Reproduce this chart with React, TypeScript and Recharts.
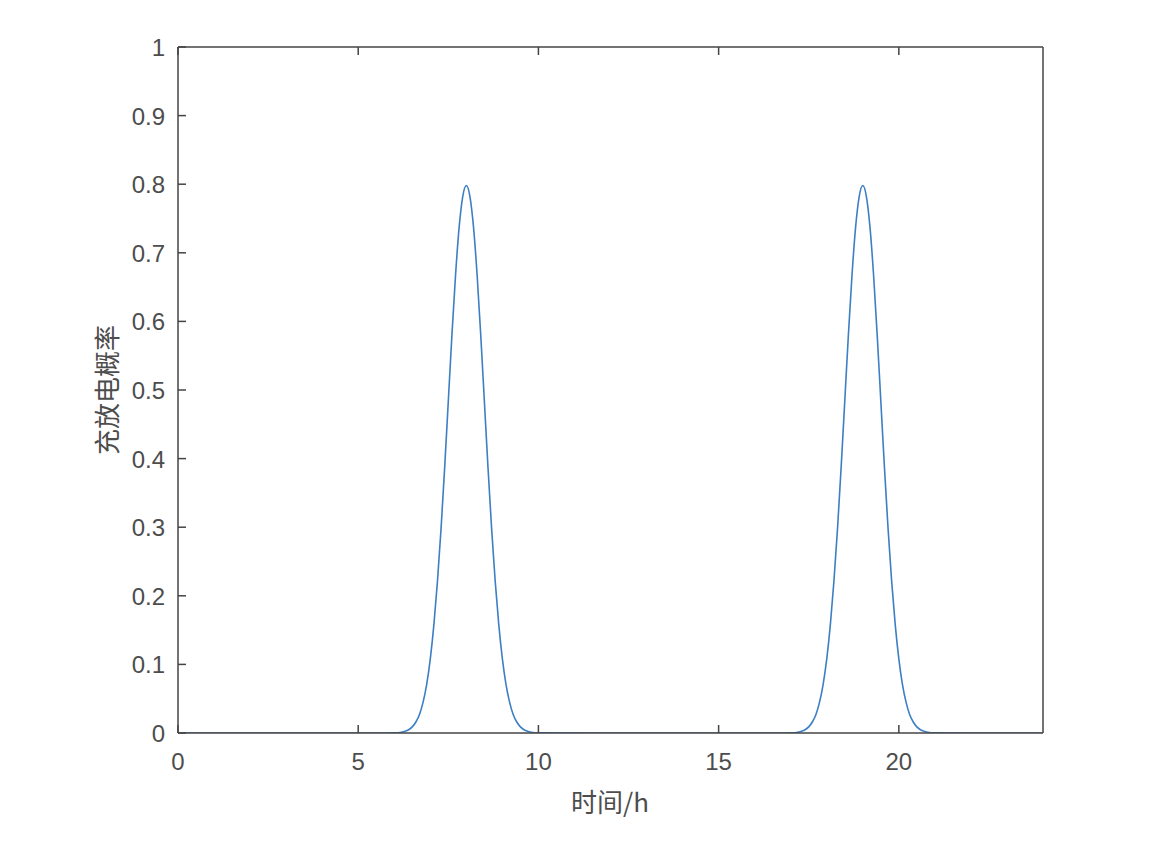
import { LineChart, Line, XAxis, YAxis } from 'recharts';

// hours sampled along the curve (dense around the two peaks)
const hours = [
  0, 2, 4, 5.5, 6, 6.2, 6.3, 6.4, 6.5, 6.6, 6.7, 6.8, 6.9, 7, 7.1, 7.2, 7.3, 7.4, 7.5, 7.6, 7.7, 7.8, 7.9, 8,
  8.1, 8.2, 8.3, 8.4, 8.5, 8.6, 8.7, 8.8, 8.9, 9, 9.1, 9.2, 9.3, 9.4, 9.5, 9.6, 9.7, 9.8, 10, 12, 14, 16, 16.5, 17,
  17.2, 17.3, 17.4, 17.5, 17.6, 17.7, 17.8, 17.9, 18, 18.1, 18.2, 18.3, 18.4, 18.5, 18.6, 18.7, 18.8, 18.9, 19,
  19.1, 19.2, 19.3, 19.4, 19.5, 19.6, 19.7, 19.8, 19.9, 20, 20.1, 20.2, 20.3, 20.4, 20.5, 20.6, 20.7, 20.8, 21, 22, 24,
];

const probability = [
  0, 0, 0, 0, 0.0003, 0.0012, 0.0025, 0.0048, 0.0089, 0.016, 0.027, 0.045, 0.071, 0.108, 0.158, 0.222, 0.299,
  0.388, 0.484, 0.58, 0.667, 0.737, 0.782, 0.798,
  0.782, 0.737, 0.667, 0.58, 0.484, 0.388, 0.299, 0.222, 0.158, 0.108, 0.071, 0.045, 0.027, 0.016, 0.0089, 0.0048,
  0.0025, 0.0012, 0.0003, 0, 0, 0, 0, 0.0003,
  0.0012, 0.0025, 0.0048, 0.0089, 0.016, 0.027, 0.045, 0.071, 0.108, 0.158, 0.222, 0.299, 0.388, 0.484, 0.58,
  0.667, 0.737, 0.782, 0.798,
  0.782, 0.737, 0.667, 0.58, 0.484, 0.388, 0.299, 0.222, 0.158, 0.108, 0.071, 0.045, 0.027, 0.016, 0.0089,
  0.0048, 0.0025, 0.0012, 0.0003, 0, 0,
];

const xTicks = [0, 5, 10, 15, 20];
const yTicks = [0, 0.1, 0.2, 0.3, 0.4, 0.5, 0.6, 0.7, 0.8, 0.9, 1];

const data = hours.map((h, i) => ({ h, p: probability[i] }));

const axisColor = '#444';
const textColor = '#4d4d4d';
const font = '"Liberation Sans", Arial, sans-serif';
const cjkFont = '"Noto Sans CJK SC", sans-serif';

// MATLAB-like ticks: short inward marks, labels outside the box
const BottomTick = (props: any) => (
  <g>
    <line x1={props.x} x2={props.x} y1={props.y} y2={props.y - 8} stroke={axisColor} strokeWidth={1.5} />
    <text x={props.x} y={props.y + 37} textAnchor="middle" fill={textColor} fontSize={24} fontFamily={font}>
      {props.payload.value}
    </text>
  </g>
);

const LeftTick = (props: any) => (
  <g>
    <line x1={props.x} x2={props.x + 8} y1={props.y} y2={props.y} stroke={axisColor} strokeWidth={1.5} />
    <text x={props.x - 13} y={props.y + 9} textAnchor="end" fill={textColor} fontSize={24} fontFamily={font}>
      {props.payload.value}
    </text>
  </g>
);

const TopTick = (props: any) => (
  <line x1={props.x} x2={props.x} y1={props.y} y2={props.y + 8} stroke={axisColor} strokeWidth={1.5} />
);

const RightTick = (props: any) => (
  <line x1={props.x} x2={props.x - 8} y1={props.y} y2={props.y} stroke={axisColor} strokeWidth={1.5} />
);

export default function App() {
  return (
    <div style={{ position: 'fixed', left: 0, top: 0, width: 1174, height: 852, background: '#fff' }}>
      <LineChart width={1174} height={852} data={data} margin={{ top: 47, right: 131, left: 178, bottom: 119 }}>
        <XAxis
          xAxisId="bottom"
          dataKey="h"
          type="number"
          domain={[0, 24]}
          ticks={xTicks}
          orientation="bottom"
          mirror
          tickSize={0}
          tickMargin={0}
          tickLine={false}
          stroke={axisColor}
          strokeWidth={1.5}
          tick={<BottomTick />}
          allowDataOverflow
        />
        <XAxis
          xAxisId="top"
          dataKey="h"
          type="number"
          domain={[0, 24]}
          ticks={xTicks}
          orientation="top"
          mirror
          tickSize={0}
          tickMargin={0}
          tickLine={false}
          stroke={axisColor}
          strokeWidth={1.5}
          tick={<TopTick />}
        />
        <YAxis
          yAxisId="left"
          type="number"
          domain={[0, 1]}
          ticks={yTicks}
          orientation="left"
          mirror
          tickSize={0}
          tickMargin={0}
          tickLine={false}
          stroke={axisColor}
          strokeWidth={1.5}
          tick={<LeftTick />}
          allowDataOverflow
        />
        <YAxis
          yAxisId="right"
          type="number"
          domain={[0, 1]}
          ticks={yTicks}
          orientation="right"
          mirror
          tickSize={0}
          tickMargin={0}
          tickLine={false}
          stroke={axisColor}
          strokeWidth={1.5}
          tick={<RightTick />}
        />
        <Line
          xAxisId="bottom"
          yAxisId="left"
          dataKey="p"
          type="monotone"
          stroke="#3d7fc4"
          strokeWidth={1.6}
          dot={false}
          isAnimationActive={false}
        />
      </LineChart>
      <div
        style={{
          position: 'absolute',
          left: 610,
          top: 800,
          transform: 'translate(-50%, -50%)',
          color: textColor,
          fontSize: 26,
          fontFamily: cjkFont,
          whiteSpace: 'nowrap',
        }}
      >
        时间/h
      </div>
      <div
        style={{
          position: 'absolute',
          left: 105,
          top: 390,
          transform: 'translate(-50%, -50%) rotate(-90deg)',
          color: textColor,
          fontSize: 26,
          fontFamily: cjkFont,
          whiteSpace: 'nowrap',
        }}
      >
        充放电概率
      </div>
    </div>
  );
}
